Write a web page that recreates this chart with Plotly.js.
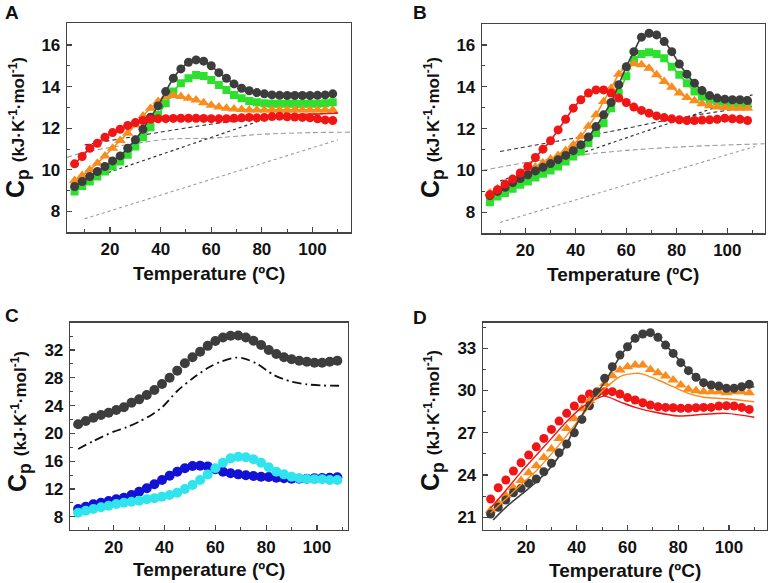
<!DOCTYPE html>
<html>
<head>
<meta charset="utf-8">
<script src="https://cdn.plot.ly/plotly-3.0.1.min.js"></script>
<style>html,body{margin:0;padding:0;background:#fff;}#chart{width:770px;height:583px;}</style>
</head>
<body>
<div id="chart"></div>
<script>
// ---------- shared temperatures ----------
const temps = [6,9,12,15,18,21,24,27,30,33,36,39,42,45,48,51,54,57,60,63,66,69,72,75,78,81,84,87,90,93,96,99,102,105,108];
const xTickVals = [20,40,60,80,100];

// ---------- Panel A ----------
const aGray   = [9.2,9.44,9.68,9.92,10.16,10.43,10.67,11.04,11.44,11.95,12.53,13.07,13.76,14.4,14.85,15.17,15.28,15.22,15.0,14.67,14.4,14.13,13.92,13.8,13.71,13.65,13.6,13.58,13.57,13.57,13.57,13.57,13.58,13.6,13.65];
const aGreen  = [8.96,9.23,9.44,9.68,9.92,10.16,10.4,10.72,11.12,11.57,12.05,12.64,13.2,13.76,14.16,14.4,14.56,14.51,14.32,14.08,13.84,13.6,13.44,13.31,13.25,13.2,13.18,13.18,13.18,13.18,13.18,13.18,13.18,13.2,13.25];
const aOrange = [9.49,9.73,10.0,10.32,10.67,11.04,11.41,11.76,12.16,12.59,12.96,13.28,13.52,13.57,13.52,13.44,13.36,13.22,13.1,13.02,12.96,12.92,12.9,12.88,12.88,12.88,12.88,12.88,12.88,12.88,12.88,12.88,12.88,12.88,12.88];
const aRed    = [10.29,10.64,11.04,11.28,11.57,11.79,11.95,12.13,12.27,12.37,12.43,12.45,12.46,12.47,12.48,12.48,12.48,12.47,12.46,12.45,12.46,12.48,12.5,12.52,12.5,12.52,12.56,12.58,12.55,12.54,12.52,12.5,12.45,12.4,12.37];
const aRedFitT = [60,70,80,90,100,110];
const aRedFit  = [12.46,12.5,12.56,12.62,12.68,12.72];
const aDashDarkT = [10,58,78,110];
const aDashDark  = [11.2,12.16,12.45,12.75];
const aDashLightT = [3,10,42.5,60,80,100,115];
const aDashLight  = [10.6,10.85,11.47,11.52,11.71,11.79,11.81];
const aDotDarkT = [8,100];
const aDotDark  = [9.4,13.22];
const aDotLightT = [10,110];
const aDotLight  = [7.65,11.44];

// ---------- Panel B ----------
const bGray   = [8.8,9.0,9.2,9.42,9.62,9.8,9.98,10.15,10.33,10.52,10.72,10.95,11.23,11.6,12.1,12.66,13.25,14.1,14.96,15.68,16.37,16.56,16.48,16.16,15.68,15.09,14.6,14.17,13.82,13.58,13.46,13.41,13.38,13.38,13.34];
const bGreen  = [8.48,8.76,8.92,9.13,9.32,9.48,9.67,9.85,10.0,10.19,10.43,10.67,10.91,11.31,11.79,12.26,12.98,13.7,14.5,15.28,15.57,15.65,15.57,15.36,14.96,14.57,14.17,13.77,13.53,13.38,13.3,13.22,13.19,13.19,13.19];
const bOrange = [8.92,9.13,9.32,9.56,9.77,9.96,10.17,10.36,10.55,10.72,10.96,11.23,11.63,12.11,12.66,13.3,13.93,14.6,14.95,15.1,15.05,14.89,14.57,14.25,13.98,13.7,13.49,13.33,13.19,13.09,13.03,13.01,12.98,12.98,12.98];
const bRed    = [8.84,9.08,9.35,9.59,9.88,10.19,10.62,11.02,11.42,11.94,12.45,12.98,13.38,13.7,13.85,13.85,13.7,13.46,13.25,13.03,12.87,12.74,12.61,12.53,12.47,12.42,12.39,12.39,12.41,12.42,12.45,12.5,12.47,12.45,12.39];
const bDashDarkT = [10,57,80,110];
const bDashDark  = [10.91,11.94,12.5,13.05];
const bDashLightT = [3,20,40,60,85,115];
const bDashLight  = [10.0,10.38,10.72,10.96,11.15,11.28];
const bDotDarkT = [10,110];
const bDotDark  = [9.5,13.62];
const bDotLightT = [10,111];
const bDotLight  = [7.52,11.15];

// ---------- Panel C ----------
const cGray = [21.31,21.78,22.26,22.65,22.98,23.37,23.76,24.42,24.9,25.52,26.24,27.11,28.02,29.03,30.09,30.95,31.76,32.6,33.3,33.8,34.05,34.1,33.8,33.34,32.72,32.0,31.42,30.95,30.66,30.46,30.32,30.17,30.17,30.32,30.46];
const cBlue = [9.12,9.45,9.79,10.03,10.27,10.52,10.74,11.13,11.61,12.1,12.68,13.29,13.91,14.49,14.98,15.31,15.36,15.25,14.83,14.49,14.26,14.11,13.97,13.87,13.77,13.73,13.63,13.54,13.49,13.49,13.49,13.54,13.58,13.63,13.68];
const cCyan = [8.59,8.88,9.12,9.37,9.6,9.84,10.03,10.17,10.32,10.52,10.66,10.9,11.13,11.47,12.0,12.58,13.29,14.1,14.98,15.78,16.41,16.65,16.56,16.27,15.78,15.12,14.49,14.11,13.77,13.54,13.44,13.4,13.4,13.29,13.29];
const cDiffT = [6,12,20,25,30,35,39,45,51,57,62,68,71,76,83,90,96,102,109];
const cDiff  = [17.76,18.9,20.25,20.88,21.7,22.7,23.75,26.1,27.9,29.4,30.3,30.9,30.8,30.09,28.4,27.44,27.06,26.9,26.86];

// ---------- Panel D ----------
const dGray   = [21.22,21.7,22.22,22.74,23.05,23.41,23.71,24.23,24.83,25.58,26.2,27.0,27.95,28.92,29.84,30.87,31.69,32.52,33.11,33.71,34.02,34.11,33.78,33.23,32.64,31.98,31.41,30.94,30.56,30.39,30.32,30.16,30.16,30.27,30.44];
const dOrange = [21.5,22.0,22.55,23.1,23.6,24.15,24.65,25.25,25.85,26.6,27.3,28.0,28.7,29.3,29.9,30.5,31.05,31.46,31.69,31.81,31.81,31.5,31.27,31.03,30.75,30.39,30.09,29.99,29.92,29.92,29.92,29.85,29.92,29.92,29.85];
const dRed    = [22.29,23.09,23.64,24.28,24.87,25.42,26.0,26.6,27.24,27.83,28.38,28.9,29.4,29.75,29.92,29.92,29.92,29.75,29.5,29.33,29.13,28.97,28.85,28.8,28.78,28.74,28.74,28.78,28.8,28.8,28.9,28.92,28.9,28.8,28.66];
const dGrayLineT = [7,12,18,24,30,36,39,45,51,57,63,69,75,81,87,93,99,105,110];
const dGrayLine  = [20.8,21.7,22.6,23.5,24.6,26.2,27.3,29.1,30.6,32.4,33.7,34.1,33.23,32.05,30.98,30.39,30.16,30.2,30.27];
const dOrangeLineT = [6,12,18,24,30,36,42,48,54,57,63,66,72,78,84,90,99,110];
const dOrangeLine  = [21.3,22.3,23.3,24.3,25.5,26.8,28.2,29.6,30.6,30.99,31.22,31.17,30.75,30.27,29.8,29.52,29.42,29.2];
const dRedLineT = [6,12,18,24,30,36,42,48,51,57,63,70,80,90,99,110];
const dRedLine  = [21.65,22.9,24.2,25.4,26.6,27.8,28.8,29.45,29.6,29.2,28.8,28.49,28.19,28.31,28.38,28.1];

// ---------- styling ----------
const COL = {gray:'#3d3d3d', green:'#2de02d', orange:'#f98c1c', red:'#f01616', blue:'#1212d6', cyan:'#30e4ee'};
const FONT = 'Liberation Sans, Arial, Helvetica, sans-serif';

function series(x, y, ax, color, symbol, size, withLine) {
  return {x:x, y:y, xaxis:'x'+ax, yaxis:'y'+ax, type:'scatter',
    mode: withLine ? 'lines+markers' : 'markers',
    line:{color:color, width:1.6, shape:'spline', smoothing:0.6},
    marker:{color:color, symbol:symbol, size:size, line:{width:0}},
    hoverinfo:'skip', cliponaxis:true};
}
function guide(x, y, ax, color, dash, width, shape) {
  return {x:x, y:y, xaxis:'x'+ax, yaxis:'y'+ax, type:'scatter', mode:'lines',
    line:{color:color, width:width, dash:dash, shape:shape||'linear', smoothing:0.8},
    hoverinfo:'skip'};
}

const traces = [
  // A
  guide(aDotLightT, aDotLight, '', '#9a9a9a', 'dot', 1.1),
  guide(aDashLightT, aDashLight, '', '#9a9a9a', '5px,3px', 1.1, 'spline'),
  guide(aDotDarkT, aDotDark, '', '#333333', 'dot', 1.2),
  guide(aDashDarkT, aDashDark, '', '#333333', '4px,3px', 1.1, 'spline'),
  series(temps, aGreen, '', COL.green, 'square', 8, true),
  series(temps, aOrange, '', COL.orange, 'triangle-up', 10, true),
  series(temps, aGray, '', COL.gray, 'circle', 9, true),
  series(temps, aRed, '', COL.red, 'circle', 9, true),
  guide(aRedFitT, aRedFit, '', COL.red, 'solid', 1.6, 'spline'),
  // B
  guide(bDotLightT, bDotLight, '2', '#9a9a9a', 'dot', 1.1),
  guide(bDashLightT, bDashLight, '2', '#9a9a9a', '5px,3px', 1.1, 'spline'),
  guide(bDotDarkT, bDotDark, '2', '#333333', 'dot', 1.2),
  guide(bDashDarkT, bDashDark, '2', '#333333', '4px,3px', 1.1, 'spline'),
  series(temps, bGreen, '2', COL.green, 'square', 8, true),
  series(temps, bOrange, '2', COL.orange, 'triangle-up', 10, true),
  series(temps, bGray, '2', COL.gray, 'circle', 9, true),
  series(temps, bRed, '2', COL.red, 'circle', 9, true),
  // C
  guide(cDiffT, cDiff, '3', '#111111', '9px,4px,2px,4px', 1.8, 'spline'),
  series(temps, cGray, '3', COL.gray, 'circle', 10, false),
  series(temps, cBlue, '3', COL.blue, 'circle', 10, false),
  series(temps, cCyan, '3', COL.cyan, 'circle', 10, false),
  // D
  series(temps, dRed, '4', COL.red, 'circle', 9, false),
  series(temps, dOrange, '4', COL.orange, 'triangle-up', 10, false),
  series(temps, dGray, '4', COL.gray, 'circle', 9, false),
  guide(dRedLineT, dRedLine, '4', COL.red, 'solid', 1.4, 'spline'),
  guide(dOrangeLineT, dOrangeLine, '4', COL.orange, 'solid', 1.4, 'spline'),
  guide(dGrayLineT, dGrayLine, '4', COL.gray, 'solid', 1.6, 'spline')
];

const W = 770, H = 583;
function dx(a, b) { return [a / W, b / W]; }
function dy(top, bottom) { return [1 - bottom / H, 1 - top / H]; }

const tickFont = {family:FONT, size:17, color:'#111', weight:'bold'};
function xax(dom, anchor, range) {
  return {domain:dom, anchor:anchor, range:range, tickmode:'array', tickvals:xTickVals,
    ticks:'inside', ticklen:5, tickwidth:1.2, tickcolor:'#444',
    minor:{dtick:10, tick0:0, ticks:'inside', ticklen:3, tickwidth:1, tickcolor:'#444'},
    showline:true, mirror:true, linecolor:'#444', linewidth:1.3,
    showgrid:false, zeroline:false, tickfont:tickFont, ticklabelstandoff:1};
}
function yax(dom, anchor, range, dtick, minor) {
  return {domain:dom, anchor:anchor, range:range, dtick:dtick, tick0:0,
    ticks:'inside', ticklen:5, tickwidth:1.2, tickcolor:'#444',
    minor:{dtick:minor, tick0:0, ticks:'inside', ticklen:3, tickwidth:1, tickcolor:'#444'},
    showline:true, mirror:true, linecolor:'#444', linewidth:1.3,
    showgrid:false, zeroline:false, tickfont:tickFont, ticklabelstandoff:2};
}

const yTitle = 'C<sub>p</sub> <span style="font-size:17px">(kJ·K<sup>-1</sup>·mol<sup>-1</sup>)</span>';
const xTitle = 'Temperature (ºC)';
function ann(text, px, py, size, angle, xanchor) {
  return {text:text, xref:'paper', yref:'paper', x:px / W, y:1 - py / H,
    xanchor:xanchor || 'center', yanchor:'middle', showarrow:false, textangle:angle || 0,
    font:{family:FONT, size:size, color:'#111', weight:'bold'}};
}

const layout = {
  width:W, height:H, margin:{l:0, r:0, t:0, b:0},
  paper_bgcolor:'#ffffff', plot_bgcolor:'#ffffff', showlegend:false,
  xaxis:  xax(dx(67, 350.7), 'y',  [3.0, 115.1]),
  yaxis:  yax(dy(23.3, 232.3), 'x', [7.0, 17.04], 2, 1),
  xaxis2: xax(dx(482, 764.7), 'y2', [2.86, 114.8]),
  yaxis2: yax(dy(24, 233.3), 'x2', [7.0, 17.0], 2, 1),
  xaxis3: xax(dx(70, 347.5), 'y3', [2.8, 112]),
  yaxis3: yax(dy(322.7, 530), 'x3', [6.1, 35.93], 4, 2),
  xaxis4: xax(dx(483, 767), 'y4', [3.0, 115]),
  yaxis4: yax(dy(322.7, 530), 'x4', [20.09, 34.82], 3, 1.5),
  annotations: [
    ann('A', 3, 12, 19, 0, 'left'),
    ann('B', 411, 12, 19, 0, 'left'),
    ann('C', 3, 315, 19, 0, 'left'),
    ann('D', 411, 317, 19, 0, 'left'),
    ann(xTitle, 209, 273, 19),
    ann(xTitle, 623, 274, 19),
    ann(xTitle, 209, 569, 19),
    ann(xTitle, 625, 570, 19),
    ann(yTitle, 17, 128, 25, -90),
    ann(yTitle, 432, 128, 25, -90),
    ann(yTitle, 19, 422, 25, -90),
    ann(yTitle, 432, 421, 25, -90)
  ]
};

Plotly.newPlot('chart', traces, layout, {staticPlot:true, displayModeBar:false});
</script>
</body>
</html>
